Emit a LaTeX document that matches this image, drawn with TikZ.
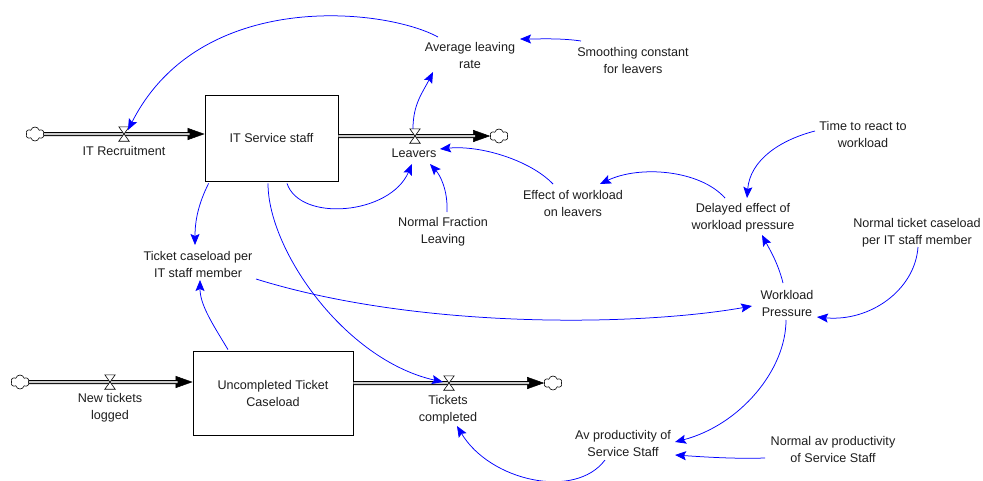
\documentclass[tikz,border=0pt]{standalone}
\usepackage{fontspec}
\setmainfont{Liberation Sans}
\usetikzlibrary{arrows.meta,shapes.symbols}
\definecolor{linkblue}{RGB}{0,0,255}
\definecolor{inkgray}{RGB}{30,30,30}

% valve: hourglass symbol sitting on a flow pipe
\newcommand{\drawvalve}[2]{%
  \node[valvebox] (#1) at (#2) {};
  \filldraw[fill=white,draw=black,line width=0.6pt]
    (#1.north west) -- (#1.north east) -- (#1.south west) -- (#1.south east) -- cycle;}

\begin{document}
\begin{tikzpicture}[x=1pt,y=-1pt,
  lbl/.style={align=center, inner sep=0pt, font=\fontsize{12.6}{17}\selectfont, text=inkgray},
  stock/.style={draw=black, line width=0.8pt, fill=white, inner sep=0pt, align=center,
    font=\fontsize{12.6}{17}\selectfont, text=inkgray},
  pipe/.style={draw=black, line width=1pt, double=gray!40, double distance=2pt},
  pipehead/.style={line width=0.5pt, -{Triangle[length=17pt,width=12pt]}},
  sourcecloud/.style={cloud, cloud puffs=6, cloud puff arc=150, draw=black,
    line width=0.6pt, fill=white, minimum width=18pt, minimum height=14pt, inner sep=0pt},
  valvebox/.style={minimum width=10pt, minimum height=14pt, inner sep=0pt},
  link/.style={draw=linkblue, line width=0.75pt, -{Stealth[length=11pt,width=9pt,inset=2pt]}}
]
\fill[white] (0,0) rectangle (983,480);
\useasboundingbox (0,0) rectangle (983,480);

% stocks
\node[stock, minimum width=133pt, minimum height=86pt] (staff) at (271.5,138) {IT Service staff};
\node[stock, minimum width=160pt, minimum height=84pt] (tbox) at (273,393) {Uncompleted Ticket\\Caseload};

% sources and sinks
\node[sourcecloud] (cRec) at (35,134) {};
\node[sourcecloud] (cLeave) at (499,136) {};
\node[sourcecloud] (cNew) at (20,382) {};
\node[sourcecloud] (cCompl) at (553,383) {};

% flow pipes
\draw[pipehead] ([shift={(-20,-4)}]staff.west) -- ([shift={(0,-4)}]staff.west);
\draw[pipe] (cRec.east) -- ([shift={(-15,-4)}]staff.west);
\draw[pipehead] ([xshift=-20pt]cLeave.west) -- (cLeave.west);
\draw[pipe] ([shift={(0,-2)}]staff.east) -- ([xshift=-15pt]cLeave.west);
\draw[pipehead] ([shift={(-20,-11)}]tbox.west) -- ([shift={(0,-11)}]tbox.west);
\draw[pipe] (cNew.east) -- ([shift={(-15,-11)}]tbox.west);
\draw[pipehead] ([xshift=-20pt]cCompl.west) -- (cCompl.west);
\draw[pipe] ([shift={(0,-10)}]tbox.east) -- ([xshift=-15pt]cCompl.west);

% valves
\drawvalve{vRec}{124,134}
\drawvalve{vLeave}{415,136}
\drawvalve{vNew}{110,382}
\drawvalve{vCompl}{449,383}

% flow names
\node[lbl] (recLbl) at (124,151) {IT Recruitment};
\node[lbl] (leavers) at (414,153) {Leavers};
\node[lbl] (newLbl) at (110,407.5) {New tickets\\logged};
\node[lbl] (tcompl) at (448,409.5) {Tickets\\completed};

% auxiliaries and constants
\node[lbl] (avg) at (470,55) {Average leaving\\rate};
\node[lbl] (smooth) at (633,60) {Smoothing constant\\for leavers};
\node[lbl] (time) at (863,134) {Time to react to\\workload};
\node[lbl] (effect) at (573,203.5) {Effect of workload\\on leavers};
\node[lbl] (delayed) at (743,217.5) {Delayed effect of\\workload pressure};
\node[lbl] (normticket) at (917,232.5) {Normal ticket caseload\\per IT staff member};
\node[lbl] (nfl) at (443,231.5) {Normal Fraction\\Leaving};
\node[lbl] (tcpm) at (198,264) {Ticket caseload per\\IT staff member};
\node[lbl] (workload) at (787,303) {Workload\\Pressure};
\node[lbl] (avprod) at (623,443.5) {Av productivity of\\Service Staff};
\node[lbl] (normav) at (833,449.5) {Normal av productivity\\of Service Staff};

% causal links
\draw[link] ([shift={(-32,-18)}]avg.center) .. controls +(-53,-29) and +(72,-142) .. ([shift={(4,-4)}]vRec.center);
\draw[link] ([shift={(-52,-19)}]smooth.center) .. controls +(-20,-3) and +(20,0) .. ([shift={(50,-16)}]avg.center);
\draw[link] ([shift={(-2,0)}]vLeave.north) .. controls +(0,-25) and +(-10,20) .. ([shift={(-37,17)}]avg.center);
\draw[link] ([shift={(15.5,2)}]staff.south) .. controls +(13,39) and +(-22,51) .. ([shift={(-2,11)}]leavers.center);
\draw[link] ([shift={(4,-19.5)}]nfl.center) .. controls +(1,-22) and +(10,11) .. ([shift={(16,11)}]leavers.center);
\draw[link] ([shift={(-20,-19.5)}]effect.center) .. controls +(-23,-24) and +(40,-4) .. ([shift={(26,-4)}]leavers.center);
\draw[link] ([shift={(-18,-19.5)}]delayed.center) .. controls +(-25,-28) and +(40,-19) .. ([shift={(27,-19.5)}]effect.center);
\draw[link] ([shift={(-48,-3)}]time.center) .. controls +(-35,9) and +(3,-38) .. ([shift={(4,-19.5)}]delayed.center);
\draw[link] ([shift={(-4,-20)}]workload.center) .. controls +(-5,-20) and +(8,15) .. ([shift={(19,17.5)}]delayed.center);
\draw[link] ([shift={(1,14.5)}]normticket.center) .. controls +(-3,43) and +(53,5) .. ([shift={(30,14)}]workload.center);
\draw[link] ([shift={(58,15)}]tcpm.center) .. controls +(164,51) and +(-112,20) .. ([shift={(-35,3)}]workload.center);
\draw[link] ([shift={(4,2)}]staff.south west) .. controls +(-10,20) and +(0,-25) .. ([shift={(-3,-19)}]tcpm.center);
\draw[link] ([shift={(-45,-1)}]tbox.north) .. controls +(-15,-25) and +(0,25) .. ([shift={(2,16)}]tcpm.center);
\draw[link] ([shift={(-3.5,2)}]staff.south) .. controls +(0,67) and +(-98,-22) .. ([shift={(-6,-1)}]vCompl.center);
\draw[link] ([shift={(-1,17)}]workload.center) .. controls +(0,50) and +(65,-17) .. ([shift={(52,-1.5)}]avprod.center);
\draw[link] ([shift={(-68,8.5)}]normav.center) .. controls +(-30,1) and +(30,2) .. ([shift={(52,11.5)}]avprod.center);
\draw[link] ([shift={(-18,16.5)}]avprod.center) .. controls +(-30,40) and +(33,55) .. ([shift={(9,16.5)}]tcompl.center);
\end{tikzpicture}
\end{document}
